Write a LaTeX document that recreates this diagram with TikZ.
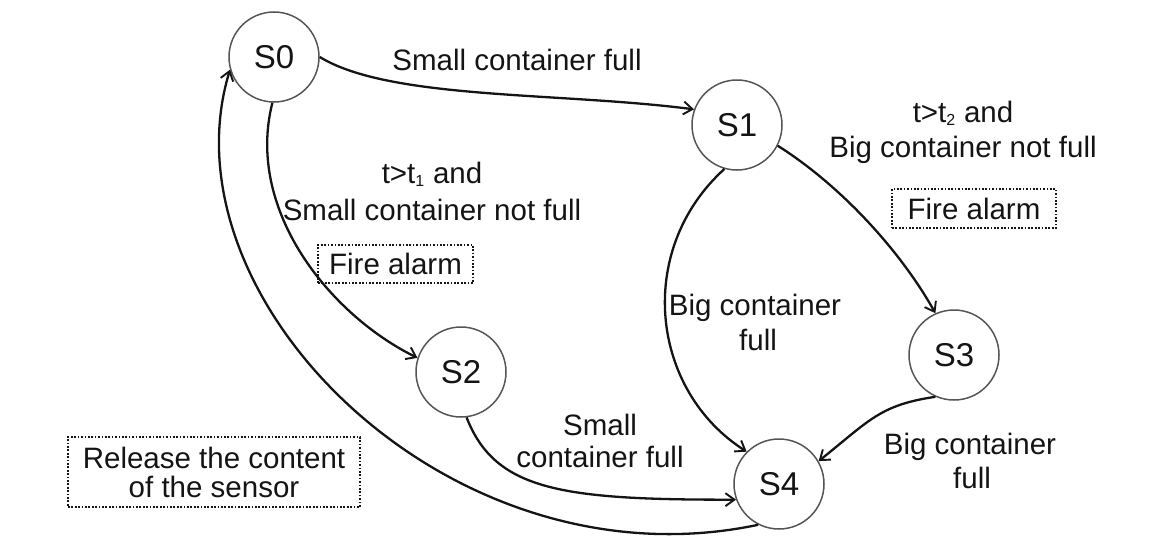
\documentclass[tikz,border=0pt]{standalone}
\usepackage{fontspec}
\setmainfont{Liberation Sans}
\usetikzlibrary{arrows.meta}
\definecolor{ink}{HTML}{141414}
\definecolor{ring}{HTML}{555555}
\begin{document}
\begin{tikzpicture}[x=1pt,y=-1pt,
  state/.style={circle, draw=ring, line width=1.5pt, minimum size=90pt, inner sep=0pt,
    font=\fontsize{33}{38}\selectfont, text=ink},
  trans/.style={draw=ink, line width=2.3pt, -{Straight Barb[length=9pt,width=13pt,line width=1.9pt]}},
  lab/.style={font=\fontsize{29.5}{35}\selectfont, text=ink, align=center, inner sep=0pt},
  dotbox/.style={draw=ink, line width=2pt, dash pattern=on 1.7pt off 1.7pt,
    font=\fontsize{29.5}{29.5}\selectfont, text=ink, align=center, inner sep=0pt}
]
\useasboundingbox (0,0) rectangle (1156,538);

\node[state] (S0) at (274,57) {S0};
\node[state] (S1) at (737,125) {S1};
\node[state] (S2) at (461,372) {S2};
\node[state] (S3) at (954,355) {S3};
\node[state] (S4) at (779,484) {S4};

% transitions
\draw[trans] (S0.0) .. controls (390,100) and (560,92) .. (S1.160);
\draw[trans] (S0.-92) .. controls (245,210) and (330,315) .. (S2.162);
\draw[trans] (S2.-83) .. controls (495,490) and (560,500) .. (S4.200);
\draw[trans] (S1.-106) .. controls (635,250) and (650,390) .. (S4.135);
\draw[trans] (S1.-27) .. controls (840,185) and (900,250) .. (S3.114);
\draw[trans] (S3.-114) .. controls (880,405) and (870,420) .. (S4.30);
\draw[trans] (S4.-117) .. controls (450,590) and (160,300) .. (S0.196);

% labels
\node[lab, anchor=base] (l01) at (517,70) {Small container full};
\node[lab, anchor=base] (l02a) at (432,183) {t>t\textsubscript{\fontsize{16}{16}\selectfont 1} and};
\node[lab, anchor=base] (l02b) at (432,220) {Small container not full};
\node[dotbox, minimum width=155pt, minimum height=38pt] (fa1) at (395.5,264) {Fire alarm};

\node[lab, anchor=base] (l13a) at (963,122) {t>t\textsubscript{\fontsize{16}{16}\selectfont 2} and};
\node[lab, anchor=base] (l13b) at (963,157) {Big container not full};
\node[dotbox, minimum width=164pt, minimum height=39pt] (fa2) at (974,208.5) {Fire alarm};

\node[lab, anchor=base] (l14a) at (755,315) {Big container};
\node[lab, anchor=base] (l14b) at (758,350) {full};

\node[lab, anchor=base] (l24a) at (600,435) {Small};
\node[lab, anchor=base] (l24b) at (600,467) {container full};

\node[lab, anchor=base] (l34a) at (970,454) {Big container};
\node[lab, anchor=base] (l34b) at (972,488) {full};

\node[dotbox, minimum width=292pt, minimum height=70pt] (rel) at (214,472)
  {Release the content\\[-0.5pt]of the sensor};
\end{tikzpicture}
\end{document}
